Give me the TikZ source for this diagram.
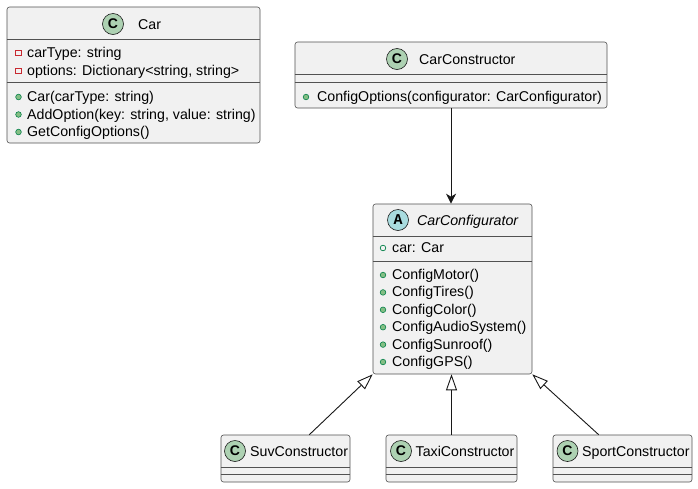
\documentclass[tikz,border=0pt]{standalone}
\usepackage{fontspec}
\setmainfont{Liberation Sans}
\setmonofont{Liberation Mono}
\usetikzlibrary{arrows.meta}
\definecolor{boxfill}{HTML}{F1F1F1}
\definecolor{boxline}{HTML}{181818}
\definecolor{classgreen}{HTML}{ADD1B2}
\definecolor{abstractblue}{HTML}{A9DCDF}
\definecolor{privred}{HTML}{C82930}
\definecolor{pubgreen}{HTML}{038048}
\definecolor{pubfill}{HTML}{84BE84}
\tikzset{
  box/.style={draw=boxline!75, fill=boxfill, line width=0.6pt, rounded corners=2.5pt, inner sep=0},
  divider/.style={draw=boxline!75, line width=0.6pt},
  badge/.style={circle, draw=boxline, line width=0.6pt, fill=classgreen, inner sep=0, minimum size=21pt, font=\bfseries\fontsize{14}{14}\selectfont},
  headtext/.style={anchor=base west, inner sep=0, font=\fontsize{14.2}{17}\selectfont},
  member/.style={anchor=base west, inner sep=0, font=\fontsize{14.2}{17}\selectfont},
  priv/.style={draw=privred, line width=0.7pt},
  pub/.style={draw=pubgreen, fill=pubfill, line width=0.6pt},
  pubfield/.style={draw=pubgreen, line width=0.7pt},
  link/.style={draw=boxline, line width=0.9pt}
}
\begin{document}
\begin{tikzpicture}[x=1pt,y=-1pt]
    \fill[white] (0,0) rectangle (698,488);
    \useasboundingbox (0,0) rectangle (698,488);
    \node[box, minimum width=253, minimum height=136] (car) at (133.5,75) {};
    \node[box, minimum width=312, minimum height=66] (ctor) at (451,75) {};
    \node[box, minimum width=159, minimum height=170] (cfg) at (452.5,289) {};
    \node[box, minimum width=129, minimum height=47] (suv) at (285.5,458.5) {};
    \node[box, minimum width=131, minimum height=47] (taxi) at (451.5,458.5) {};
    \node[box, minimum width=139, minimum height=47] (sport) at (622.5,458.5) {};
    \draw[divider] (car.west |- 0,39) -- (car.east |- 0,39);
    \draw[divider] (car.west |- 0,82) -- (car.east |- 0,82);
    \draw[divider] (ctor.west |- 0,74) -- (ctor.east |- 0,74);
    \draw[divider] (ctor.west |- 0,82) -- (ctor.east |- 0,82);
    \draw[divider] (cfg.west |- 0,236) -- (cfg.east |- 0,236);
    \draw[divider] (cfg.west |- 0,261) -- (cfg.east |- 0,261);
    \foreach \b in {suv,taxi,sport}{
        \draw[divider] (\b.west |- 0,467) -- (\b.east |- 0,467);
        \draw[divider] (\b.west |- 0,474) -- (\b.east |- 0,474);
    }
    \node[badge] (car-c) at (113,24) {C};
    \node[headtext] (car-t) at (138,29) {Car};
    \node[badge] (ctor-c) at (397,59) {C};
    \node[headtext] (ctor-t) at (419,64) {CarConstructor};
    \node[badge, fill=abstractblue, font=\ttfamily\bfseries\fontsize{15}{15}\selectfont] (cfg-c) at (398,220) {A};
    \node[headtext, font=\itshape\fontsize{14.2}{17}\selectfont] (cfg-t) at (417,225) {CarConfigurator};
    \node[badge] (suv-c) at (235,451) {C};
    \node[headtext] (suv-t) at (250,456) {SuvConstructor};
    \node[badge] (taxi-c) at (401,451) {C};
    \node[headtext] (taxi-t) at (415.5,456) {TaxiConstructor};
    \node[badge] (sport-c) at (567.5,451) {C};
    \node[headtext] (sport-t) at (582,456) {SportConstructor};
    \foreach \y/\t [count=\i] in {53/{carType: string}, 71/{options: Dictionary<string, string>}}{
        \draw[priv] (15.75,\y-2.75) rectangle ++(5.5,5.5);
        \node[member] (car-f\i) at (27,\y+4.5) {\t};
    }
    \foreach \y/\t [count=\i] in {97/{Car(carType: string)}, 114.5/{AddOption(key: string, value: string)}, 132/{GetConfigOptions()}}{
        \draw[pub] (18.5,\y) circle (2.8);
        \node[member] (car-m\i) at (27,\y+4.5) {\t};
    }
    \draw[pub] (306,97) circle (2.8);
    \node[member] (ctor-m1) at (317,101.5) {ConfigOptions(configurator: CarConfigurator)};
    \draw[pubfield] (383,248) circle (2.8);
    \node[member] (cfg-f1) at (392,252.5) {car: Car};
    \foreach \t [count=\i, evaluate=\i as \y using 257.6+17.4*\i] in {ConfigMotor(), ConfigTires(), ConfigColor(), ConfigAudioSystem(), ConfigSunroof(), ConfigGPS()}{
        \draw[pub] (383,\y) circle (2.8);
        \node[member] (cfg-m\i) at (392,\y+4.5) {\t};
    }
    \draw[link,-{Stealth[length=10pt,width=10pt,inset=3pt]}] (ctor.south) -- (ctor.south |- cfg.north);
    \draw[link,-{Triangle[length=16pt,width=11pt,fill=white]}] (suv.45) -- (cfg.south west);
    \draw[link,-{Triangle[length=16pt,width=11pt,fill=white]}] (taxi.north) -- (taxi.north |- cfg.south);
    \draw[link,-{Triangle[length=16pt,width=11pt,fill=white]}] (sport.135) -- (cfg.south east);
\end{tikzpicture}
\end{document}
